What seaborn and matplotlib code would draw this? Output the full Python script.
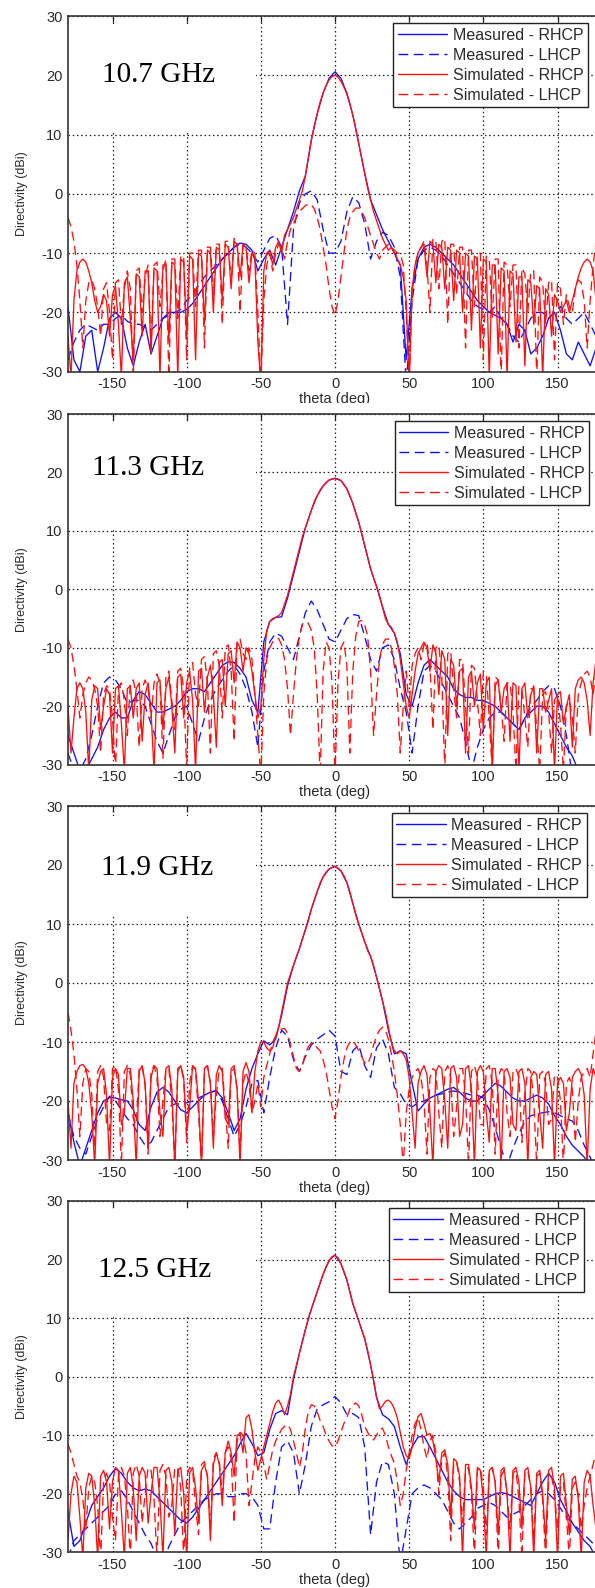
import numpy as np
import pandas as pd
import matplotlib
matplotlib.use("Agg")
import matplotlib.pyplot as plt
import seaborn as sns
from matplotlib.patches import Rectangle
from matplotlib.lines import Line2D

# ---------------- data ----------------
THETA_SIM = list(range(-180, 181, 2))    # simulated patterns, 2 deg step
THETA_MEAS = list(range(-180, 181, 4))   # measured patterns, 4 deg step
FREQ_LABELS = ["10.7 GHz", "11.3 GHz", "11.9 GHz", "12.5 GHz"]
SERIES = ["Measured - RHCP", "Measured - LHCP", "Simulated - RHCP", "Simulated - LHCP"]
X_TICKS = [-150, -100, -50, 0, 50, 100, 150]
Y_TICKS = [-30, -20, -10, 0, 10, 20, 30]

# ---- 10.7 GHz ----
P1_MEAS_RHCP = [
    -19, -28, -30, -24, -23, -30, -26, -21, -20, -21,
    -26, -29, -25, -22, -27, -24, -21, -20, -20, -20,
    -19.5, -18.5, -17, -15.5, -14, -12.5, -11, -10, -9, -8.3,
    -8.5, -9.5, -13, -11, -9.5, -12, -9, -6, -3, 0.5,
    3, 9, 13.5, 17, 19.5, 20.6, 19.5, 17, 13.3, 8.5,
    3.5, -1, -3.5, -6, -8, -10, -12, -28, -16, -11,
    -9, -8.5, -9, -10, -11, -12, -13.5, -15, -16.5, -18,
    -19, -20, -20.5, -21, -22, -25, -22, -23, -27, -26,
    -24, -21, -20, -23, -27, -28, -25, -27, -29, -26,
    -31]
P1_MEAS_LHCP = [
    -28, -25, -23, -22, -22.5, -23, -22, -22, -21, -20.5,
    -21.5, -22, -22, -22.5, -23, -22, -21, -20.5, -20, -19.5,
    -18, -17, -15.5, -14, -13, -12, -11, -10, -9, -8.5,
    -9, -10, -11.5, -9.5, -7.5, -7, -9, -22, -6, -1.5,
    0, 0.5, -1, -6, -10, -10, -8, -3, -0.5, -1.5,
    -5, -11, -8, -6.5, -7, -9, -14, -32, -18, -11,
    -9.5, -9, -9.5, -10.5, -12, -13.5, -15, -16.5, -18, -19,
    -19.5, -20, -19, -21, -22, -24, -25, -23, -21, -20,
    -20, -21, -20, -19, -21, -22, -21, -20, -22, -24,
    -25]
P1_SIM_RHCP = [
    -24, -31, -18, -13, -11.5, -11, -11.5, -13, -15, -18,
    -20, -19, -17, -18, -24, -17, -15.5, -22, -31, -15,
    -14, -21, -28, -13.5, -14, -24, -13, -13, -27, -12.5,
    -13, -31, -12, -12, -25, -11.5, -12, -31, -11, -11.5,
    -24, -10.5, -11, -28, -10, -10.5, -22, -9.5, -10, -20,
    -9, -9.5, -18, -8.5, -9, -16, -8, -8.5, -14, -8.5,
    -9, -15, -10, -11, -25, -32, -13, -10, -9.5, -12,
    -9, -8, -10, -7, -6, -5, -4, -2.5, -1, 0.5,
    3, 6, 9, 11.5, 13.5, 15.5, 17, 18.3, 19.2, 19.8,
    20, 19.7, 19, 18, 16.8, 15.2, 13.3, 11, 8.5, 6,
    3.5, 1, -1, -3, -4.5, -6, -7.5, -8.5, -9.5, -9,
    -10, -11, -12, -14, -18, -32, -16, -12, -10, -9,
    -8.5, -14, -8, -8.5, -15, -8.5, -9, -16, -9, -9.5,
    -18, -9.5, -10, -20, -10, -10.5, -23, -10.5, -11, -26,
    -11, -11.5, -31, -12, -12, -27, -12.5, -13, -31, -13,
    -13.5, -25, -14, -14, -29, -14.5, -15, -22, -15.5, -16,
    -31, -16, -17, -24, -17, -18, -20, -19, -18, -20,
    -18, -16, -14, -12.5, -11.5, -11, -11.5, -13, -18, -31,
    -24]
P1_SIM_LHCP = [
    -4, -5.5, -8, -12, -18, -26, -18, -15, -14.5, -16,
    -19, -24, -16, -15, -20, -28, -15, -14.5, -22, -16,
    -13, -16, -31, -13, -12.5, -20, -14, -12, -26, -12,
    -11.5, -19, -13, -11, -31, -11, -11, -21, -10.5, -10.5,
    -28, -10, -10, -19, -9.5, -9.5, -26, -9, -9, -17,
    -8.5, -8.5, -22, -8, -8, -15, -7.5, -8, -20, -8.5,
    -9, -13, -9.5, -10, -20, -32, -18, -12, -10, -13,
    -10, -8.5, -9, -11, -8, -6, -5, -4, -3, -2.5,
    -2, -1.7, -1.8, -2.5, -4, -6, -9, -12, -16, -19,
    -20.5, -18, -14, -10, -6, -4, -3, -2.4, -2.4, -3,
    -4, -5.5, -7, -8.5, -10, -11, -9.5, -9, -8.5, -9,
    -9.5, -10, -10, -12, -20, -32, -16, -12, -10, -9,
    -8, -12, -20, -7.5, -8, -16, -8, -7.5, -22, -8.5,
    -8.5, -17, -9, -9, -26, -9.5, -9.5, -19, -10, -10,
    -28, -10.5, -11, -21, -11, -11, -31, -11.5, -12, -19,
    -12, -12, -26, -12.5, -13.5, -20, -13, -13, -31, -14,
    -15, -22, -15, -14.5, -28, -15, -16, -22, -17, -19,
    -20, -16, -14.5, -15, -18, -26, -18, -12, -8, -5.5,
    -4]

# ---- 11.3 GHz ----
P2_MEAS_RHCP = [
    -25, -28, -31, -31, -29, -27, -24, -22, -21, -22,
    -22, -19, -17.5, -18, -19.5, -21, -21, -20.5, -20, -19,
    -17.5, -17, -17, -17.5, -16, -14.5, -13, -12.4, -12.5, -13.5,
    -15, -19, -21, -9, -5.5, -4.8, -4.7, -1.5, 2.5, 6.5,
    10.5, 13.5, 16, 17.7, 18.7, 19, 18.6, 17.2, 14.7, 11.5,
    7.5, 3.5, 0.5, -3, -6, -7.5, -11, -18, -20, -16,
    -13, -12, -13, -14, -15, -17, -18, -18.5, -18.5, -19,
    -19, -19.5, -20, -21, -22, -23, -24, -22, -21, -20,
    -20, -21, -23, -25, -27, -28.5, -31, -34, -36, -35,
    -34]
P2_MEAS_LHCP = [
    -28, -31, -31, -29, -25, -20, -16, -15, -15.5, -17,
    -19.5, -19, -19, -20, -23, -26, -28, -25, -22, -20.5,
    -20, -23, -26, -22, -19, -17, -15.5, -14, -13, -14.5,
    -17, -21, -27, -14, -9, -7.5, -8, -10, -12, -8,
    -4, -2, -3.5, -6, -8.5, -9, -7, -5, -4.3, -4.5,
    -8, -12, -14, -10, -9.5, -12, -17, -21, -28, -20,
    -14, -13, -14, -16, -18, -20, -22, -26, -31, -27,
    -24, -22, -21, -21, -22, -23, -24, -22, -20, -19,
    -17.5, -16.5, -17, -20, -25, -32, -35, -36, -35, -35,
    -35]
P2_SIM_RHCP = [
    -20, -28, -22, -17, -16, -17, -21, -31, -19, -16.5,
    -17, -24, -20, -17, -18, -28, -17, -16.5, -23, -31,
    -17, -16.5, -22, -17, -16, -26, -18, -16, -21, -31,
    -16, -15.5, -24, -17, -15, -20, -28, -15, -14.5, -22,
    -16, -14, -19, -31, -14, -13.5, -21, -15, -13, -18,
    -27, -12.5, -12, -20, -11, -10.5, -16, -9, -10, -14,
    -10, -11, -14, -18, -22, -20, -12, -7, -5.5, -5,
    -4.8, -4.5, -4, -2.5, -1, 1, 3, 5, 7, 9,
    10.5, 12, 13.5, 15, 16, 17, 17.7, 18.3, 18.7, 18.9,
    19, 18.9, 18.6, 18, 17.2, 16, 14.7, 13, 11.5, 9.5,
    7.5, 5.5, 3.5, 2, 0.5, -1, -3, -5, -6, -6.5,
    -7.5, -9, -12, -16, -20, -22, -18, -14, -11, -10,
    -9, -10, -14, -9.5, -11, -18, -10.5, -12, -25, -12,
    -13, -20, -14, -13.5, -28, -15, -14, -20, -16, -14.5,
    -24, -16, -15, -31, -16.5, -15.5, -21, -17, -16, -26,
    -16, -16.5, -31, -17, -16, -22, -18, -16.5, -28, -17,
    -17, -21, -19, -17, -31, -18, -17.5, -23, -20, -18,
    -27, -17, -15.5, -15, -16, -19, -25, -16, -12, -10,
    -9]
P2_SIM_LHCP = [
    -8.5, -10, -13, -17, -22, -18, -16, -15, -15.5, -17,
    -20, -28, -18, -16.5, -17, -22, -31, -17, -16, -19,
    -25, -16, -15.5, -18, -27, -17, -15.5, -17, -22, -16,
    -14.5, -16, -29, -15, -14, -19, -24, -14, -13.5, -17,
    -31, -13, -12.5, -18, -20, -12, -11.5, -16, -28, -11,
    -10.5, -13, -22, -10, -9.5, -14, -26, -9, -8.5, -11,
    -12, -10, -12, -18, -25, -32, -18, -12, -10, -9,
    -8.5, -8.4, -9.5, -12, -17, -25, -18, -12, -8, -6,
    -5.5, -5.8, -7, -10, -18, -32, -14, -9, -10, -16,
    -32, -16, -10, -9, -13, -28, -14, -8, -5.5, -5.3,
    -6, -8, -14, -25, -18, -12, -9.5, -8.5, -8.5, -10,
    -13, -18, -28, -20, -14, -20, -13, -11, -10, -12,
    -9.5, -9, -13, -24, -10, -9.5, -15, -31, -11, -10.5,
    -17, -22, -12, -12, -20, -28, -13, -13.5, -19, -25,
    -14, -14.5, -22, -31, -15, -15.5, -20, -26, -16, -16,
    -21, -31, -16.5, -17, -22, -27, -17, -17, -24, -31,
    -18, -17.5, -21, -28, -19, -18, -23, -31, -20, -19,
    -22, -28, -18, -16, -14.5, -14, -15, -18, -14, -11,
    -8.5]

# ---- 11.9 GHz ----
P3_MEAS_RHCP = [
    -22, -27, -31, -28, -25, -22, -20, -19.4, -19.5, -19.8,
    -20, -21.5, -24, -25, -21, -18.5, -17.7, -18.5, -20, -21.5,
    -22, -21, -20, -19, -18.5, -18.3, -19.5, -22, -25, -23,
    -18, -14.5, -12, -9.8, -10.5, -9.5, -5.5, -0.5, 3, 5.8,
    9, 12.5, 15.5, 18, 19.3, 19.8, 19, 17, 13.5, 10,
    7, 4.5, 1, -3, -8, -12, -11.5, -12, -17, -21.7,
    -20.5, -19.5, -19, -18.5, -18, -17.7, -18.5, -19.5, -20, -20,
    -19, -18, -17, -17.5, -18.5, -19.5, -20, -20, -19.5, -19,
    -19.5, -20.5, -22.5, -24, -26, -27.5, -28.5, -29.5, -31, -33,
    -34]
P3_MEAS_LHCP = [
    -22, -26, -28, -29, -26, -23, -21, -19.2, -20, -21.5,
    -23, -24, -26, -27.5, -27, -25, -23, -21, -20.5, -20.5,
    -20.3, -20, -19.5, -19, -18.5, -18.2, -20, -23, -26, -24,
    -21, -17, -16.5, -22, -16, -11, -8, -9, -13, -15,
    -12.5, -10.5, -9.5, -8.8, -8, -9, -15, -15.5, -11.5, -10.5,
    -14, -16, -11, -9.5, -12, -17.7, -18.8, -20.5, -21, -20.3,
    -20, -19.5, -19, -18.8, -18.5, -18.3, -18.5, -18.7, -19, -19,
    -19.5, -21.5, -24.5, -28, -31, -28, -25.5, -23.5, -22.5, -22.2,
    -22, -21.8, -22, -22.5, -23, -23.4, -25, -27.5, -29.5, -32,
    -34]
P3_SIM_RHCP = [
    -20, -28, -17, -15, -14, -13.8, -14.5, -17, -22, -31,
    -17, -15, -14.5, -19, -31, -16, -14.5, -15.5, -24, -22,
    -14.5, -14.5, -20, -31, -15, -14, -17, -28, -16, -14,
    -14.5, -22, -26, -14.5, -14, -18, -31, -15, -14, -16,
    -25, -21, -14, -14.5, -20, -31, -14.5, -14, -17, -28,
    -15.5, -14, -15, -23, -24, -14.5, -14, -18, -31, -15,
    -13.5, -15, -22, -15, -11.5, -10, -10, -11, -11.5, -11,
    -9, -7.5, -5, -2.5, 0, 1.5, 3, 4.5, 5.8, 7.5,
    9, 10.5, 12.5, 14, 15.5, 17, 18, 18.8, 19.3, 19.6,
    19.7, 19.5, 19, 18.2, 17, 15.5, 13.5, 11.5, 10, 8.5,
    7, 5.5, 4.5, 3, 1, -1, -3, -5, -7.5, -10,
    -11.5, -12, -11.5, -12, -13, -16, -22, -28, -17, -15,
    -14, -15.5, -22, -31, -15, -14, -14.5, -20, -28, -14.5,
    -14, -16, -26, -24, -14.5, -14, -18, -31, -15, -14,
    -15, -22, -27, -14.5, -14.5, -19, -31, -15, -14.5, -16,
    -24, -25, -15, -14.5, -17, -31, -16, -15, -15.5, -22,
    -28, -15.5, -15, -18, -31, -17, -16, -17, -25, -22,
    -16, -15, -14.5, -15.5, -19, -31, -18, -14.5, -16, -24,
    -20]
P3_SIM_LHCP = [
    -5, -8, -12, -18, -26, -17, -14.5, -15, -19, -28,
    -15, -14, -16, -24, -25, -14.5, -14, -18, -31, -15,
    -14, -15.5, -23, -24, -14.5, -14, -17.5, -29, -15, -14,
    -16, -26, -20, -14.5, -14.5, -20, -31, -14.5, -14, -16.5,
    -27, -17, -14, -15, -22, -31, -14.5, -14, -17, -26,
    -19, -14.5, -14.5, -21, -28, -15, -14.5, -18, -29, -17,
    -15, -17, -22, -20, -17, -21, -16, -14, -12, -10,
    -9, -8.2, -7.8, -7.7, -8.5, -10.5, -12.5, -14.5, -15, -14,
    -12, -10.8, -10.2, -10.5, -11, -11.5, -13, -15, -18, -21,
    -23, -20, -16, -13, -11, -10, -9.8, -10.5, -11.5, -12.5,
    -13.5, -13.8, -12.5, -10.5, -9, -8, -7.5, -8, -9.5, -12,
    -15, -19, -24, -31, -22, -18, -16, -15, -14.5, -16,
    -20, -29, -16, -14.5, -15, -22, -28, -15, -14, -16,
    -26, -21, -14.5, -14.5, -19, -31, -15, -14, -16, -24,
    -24, -14.5, -14, -17, -29, -16, -14.5, -15, -22, -26,
    -15, -14.5, -16, -27, -19, -14.5, -15, -20, -31, -15.5,
    -15, -17, -24, -23, -15.5, -16, -20, -31, -17, -16,
    -18, -27, -20, -16, -15, -14.5, -16, -12, -8, -6,
    -5]

# ---- 12.5 GHz ----
P4_MEAS_RHCP = [
    -23, -29, -28, -25, -22, -20.5, -19, -17, -15.7, -16.5,
    -18, -19, -19.5, -19.2, -19.5, -20.5, -21.5, -22.5, -23.5, -24.5,
    -25, -24, -22.5, -21, -19.5, -18, -16.5, -15, -13.5, -11.5,
    -9.7, -11.4, -13.5, -13, -9, -6.3, -5.8, -6.5, -0.5, 4,
    8, 11.5, 14.5, 17.5, 19.8, 20.8, 19.3, 16.5, 12.5, 9.5,
    6.5, 2, -3.5, -6.5, -7.2, -8.5, -12, -15, -12, -10.3,
    -10.2, -12, -14, -16, -18, -19.5, -20.5, -21, -21, -21,
    -21, -20.5, -20, -19.8, -20, -20.5, -21, -21.5, -22, -20,
    -18, -16.5, -18, -21, -23, -25, -26.5, -28, -29, -31,
    -32]
P4_MEAS_LHCP = [
    -31, -28, -27, -26, -25, -24, -23, -22, -20, -19.5,
    -21, -23, -25, -27, -28.5, -31, -32, -29, -27, -25,
    -24, -23, -22, -21, -20.5, -20, -20, -20.5, -20.5, -20,
    -20, -20.5, -22, -26, -26, -18, -12, -11, -13, -20,
    -15, -8.5, -5.5, -4.8, -4.3, -3.4, -4.5, -6.5, -6.3, -7,
    -12, -27, -18, -14.5, -15, -20, -32, -26, -20, -19,
    -18.5, -19, -20, -21, -23, -25, -26, -25, -24, -22.5,
    -22, -21.5, -22, -23, -24, -23.5, -23, -22, -21, -20,
    -19.5, -20, -21, -22.5, -24, -25, -26, -27, -28, -29,
    -31]
P4_SIM_RHCP = [
    -28, -20, -17, -18, -24, -31, -19, -16.5, -17, -22,
    -31, -17, -16, -18, -26, -18, -15.5, -16, -23, -31,
    -16.5, -15.5, -19, -28, -17, -15.5, -16.5, -25, -20, -15.5,
    -15.5, -21, -31, -16, -15.5, -18, -27, -16, -15.5, -20,
    -31, -16.5, -15.5, -19, -25, -16, -15, -17, -28, -15,
    -13, -15, -22, -13, -11, -13, -17, -10, -9.7, -13,
    -7, -6.5, -9, -13, -16, -14, -12, -10, -8, -6,
    -4.5, -4, -5, -6.5, -5, -3, 0, 2, 4, 6,
    8, 10, 11.5, 13, 14.5, 16, 17.5, 18.8, 19.8, 20.5,
    20.7, 20.3, 19.3, 18, 16.5, 14.5, 12.5, 11, 9.5, 8,
    6.5, 4.5, 2, -0.5, -3.5, -5.5, -5, -4.2, -4, -4.5,
    -5.5, -7, -9.5, -12, -13.5, -14, -12, -9, -6.8, -6.3,
    -8, -10, -9.7, -11, -14, -18, -13, -12.5, -15, -24,
    -14, -14.5, -17, -31, -15, -15, -19, -26, -15.5, -16,
    -21, -31, -16, -15.5, -18, -27, -16, -15.5, -20, -31,
    -16, -15.5, -18, -26, -16, -15.5, -19, -31, -16.5, -16,
    -20, -28, -16, -15.5, -19, -31, -17, -16.5, -22, -27,
    -17.5, -17, -21, -31, -18, -16, -17, -22, -26, -20,
    -28]
P4_SIM_LHCP = [
    -11.5, -13, -15, -17, -18, -21, -26, -19, -17, -18,
    -22, -31, -18, -16.5, -18, -24, -28, -17, -15.5, -17,
    -22, -31, -16.5, -15, -17, -25, -20, -15.5, -16, -21,
    -31, -16, -15, -17, -24, -22, -15.5, -15.5, -19, -31,
    -17, -15.5, -16, -22, -27, -15, -14.5, -17, -26, -14,
    -13, -14.5, -20, -13, -12, -14, -25, -11, -9.5, -10,
    -13, -22, -18, -14, -12, -13, -15, -17.6, -15, -12.5,
    -11, -10, -9, -8.5, -8.2, -9, -11, -13, -15.5, -13,
    -8.8, -6, -4.8, -5, -6, -7.5, -8.5, -10, -11, -11.8,
    -12, -11, -9.5, -8, -7, -5.5, -4.8, -4.5, -5, -6.5,
    -8.5, -9.5, -10.5, -10.8, -10, -9, -8.8, -10, -12, -13.5,
    -14.8, -18, -22, -20, -16, -13, -10, -8, -7, -9,
    -12, -14, -11, -10, -13, -20, -14, -13, -17, -28,
    -15, -14.5, -18, -25, -16, -15.5, -20, -31, -16, -15.5,
    -19, -27, -16, -15.5, -18, -31, -17, -16, -20, -26,
    -16.5, -16, -21, -31, -16.5, -16, -19, -28, -17, -16.5,
    -21, -31, -18, -17, -20, -26, -19, -18, -24, -31,
    -19, -18, -20, -26, -22, -19, -17, -15, -13, -12,
    -11.5]

PANELS = [
    (P1_MEAS_RHCP, P1_MEAS_LHCP, P1_SIM_RHCP, P1_SIM_LHCP),
    (P2_MEAS_RHCP, P2_MEAS_LHCP, P2_SIM_RHCP, P2_SIM_LHCP),
    (P3_MEAS_RHCP, P3_MEAS_LHCP, P3_SIM_RHCP, P3_SIM_LHCP),
    (P4_MEAS_RHCP, P4_MEAS_LHCP, P4_SIM_RHCP, P4_SIM_LHCP),
]

frames = []
for k, curves in enumerate(PANELS):
    for name, vals, th in zip(SERIES, curves, (THETA_MEAS, THETA_MEAS, THETA_SIM, THETA_SIM)):
        if len(vals) != len(th):
            raise ValueError(f"panel {k} {name}: {len(vals)} values vs {len(th)} thetas")
        frames.append(pd.DataFrame({"panel": k, "series": name, "theta": th, "dB": vals}))
df = pd.concat(frames, ignore_index=True)

# ---------------- style ----------------
sns.set_style("white")
plt.rcParams["font.family"] = ["Liberation Sans", "DejaVu Sans"]
plt.rcParams["axes.unicode_minus"] = False

BLUE = "#1010ff"
RED = "#ff1010"
PALETTE = {SERIES[0]: BLUE, SERIES[1]: BLUE, SERIES[2]: RED, SERIES[3]: RED}
DASHES = {SERIES[0]: "", SERIES[1]: (7, 4), SERIES[2]: "", SERIES[3]: (7, 4)}

W, H = 595, 1588
fig = plt.figure(figsize=(W / 100, H / 100), dpi=100)

# axes boxes in pixels: (top, bottom)
BOXES = [(16, 371.7), (414, 764.7), (806, 1160), (1201, 1552.3)]
LEFT_PX, WIDTH_PX = 68, 534
TEXT_POS = [(-157, 18.8), (-164, 19.5), (-158, 18.3), (-160, 17.1)]
MASK_BOTTOM = [10.4, 10.4, 11.3, 10.4]
LEGEND_LEFT_PX = [393.3, 394.5, 391.7, 389.0]

grid_kw = dict(color="#202020", linestyle=(0, (1.2, 2.2)), linewidth=0.9)

for k in range(4):
    top, bot = BOXES[k]
    ax = fig.add_axes([LEFT_PX / W, 1 - bot / H, WIDTH_PX / W, (bot - top) / H])
    ax.set_axisbelow(True)
    sub = df[df["panel"] == k]
    sns.lineplot(data=sub, x="theta", y="dB", hue="series", style="series",
                 hue_order=SERIES, style_order=SERIES, palette=PALETTE, dashes=DASHES,
                 estimator=None, sort=False, linewidth=0.95, legend=False, ax=ax)
    ax.set_xlim(-180, 180)
    ax.set_ylim(-30, 30)
    ax.set_xticks(X_TICKS)
    ax.set_yticks(Y_TICKS)
    ax.grid(True, **grid_kw)
    ax.tick_params(direction="in", top=True, right=True, length=4, width=0.9,
                   labelsize=10.5, pad=4, colors="#222222", labelcolor="#2a2a2a")
    for sp in ax.spines.values():
        sp.set_color("#333333")
        sp.set_linewidth(1.2)
    ax.set_xlabel("theta (deg)", fontsize=10.5, color="#2a2a2a")
    ax.set_ylabel("Directivity (dBi)", fontsize=9, color="#2a2a2a")
    ax.xaxis.set_label_coords(0.5, -0.058)
    ax.yaxis.set_label_coords((27.5 - LEFT_PX) / WIDTH_PX, 0.5)

    # white area behind the frequency label (hides grid there)
    ax.add_patch(Rectangle((-180, MASK_BOTTOM[k]), 127, 28.3 - MASK_BOTTOM[k],
                           facecolor="white", edgecolor="none", zorder=0.8))
    tx, ty = TEXT_POS[k]
    ax.text(tx, ty, FREQ_LABELS[k], fontsize=21, family=["Liberation Serif", "DejaVu Serif"],
            ha="left", va="baseline", color="black", zorder=5)

    handles = [Line2D([], [], color=PALETTE[s], linewidth=1.0,
                      linestyle="-" if DASHES[s] == "" else (0, DASHES[s])) for s in SERIES]
    leg = ax.legend(handles, SERIES, loc="upper left",
                    bbox_to_anchor=((LEGEND_LEFT_PX[k] - LEFT_PX) / WIDTH_PX, 1 - 7.2 / (bot - top)),
                    borderaxespad=0, fontsize=11.5, frameon=True, fancybox=False,
                    framealpha=1, edgecolor="#222222", handlelength=3.1,
                    handletextpad=0.36, borderpad=0.28, labelspacing=0.31)
    leg.get_frame().set_linewidth(1.0)
    for t in leg.get_texts():
        t.set_color("#2a2a2a")
    leg.set_zorder(6)

# the first panel's x label is partly hidden under the second chart in the source
fig.patches.append(Rectangle((LEFT_PX / W, 1 - 413 / H), 1, 10.5 / H, transform=fig.transFigure,
                             facecolor="white", edgecolor="none", zorder=10))

fig.savefig("out.png", dpi=100)
